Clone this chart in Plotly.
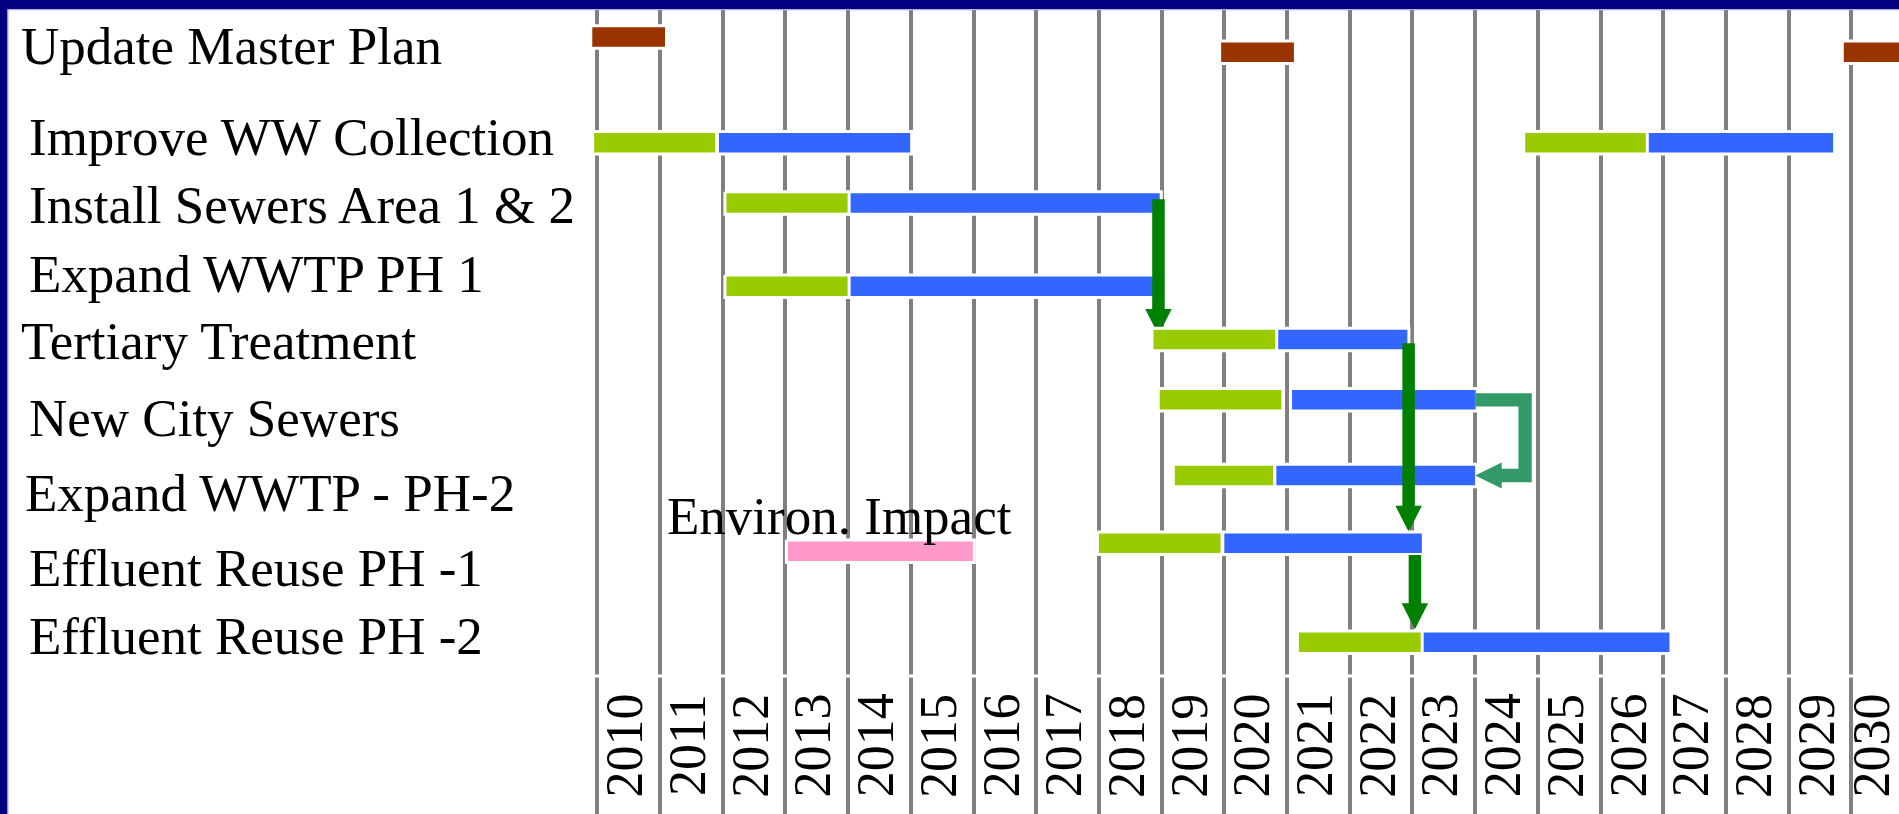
import plotly.graph_objects as go

# ---------------- data ----------------
tasks = [
    "Update Master Plan",
    "Improve WW Collection",
    "Install Sewers Area 1 & 2",
    "Expand WWTP PH 1",
    "Tertiary Treatment",
    "New City Sewers",
    "Expand WWTP - PH-2",
    "Effluent Reuse PH -1",
    "Effluent Reuse PH -2",
]

# master plan updates (brown)
plan_start = [2009.92, 2019.95, 2029.88]
plan_end = [2011.08, 2021.11, 2031.00]

# design (green) and construction (blue) phases
phase_task = [
    "Improve WW Collection", "Improve WW Collection", "Install Sewers Area 1 & 2",
    "Expand WWTP PH 1", "Tertiary Treatment", "New City Sewers",
    "Expand WWTP - PH-2", "Effluent Reuse PH -1", "Effluent Reuse PH -2",
]
design_start = [2009.95, 2024.80, 2012.06, 2012.06, 2018.87, 2018.97, 2019.21, 2018.00, 2021.19]
design_end = [2011.88, 2026.73, 2014.00, 2014.00, 2020.81, 2020.91, 2020.78, 2019.94, 2023.15]
build_start = [2011.94, 2026.77, 2014.04, 2014.04, 2020.86, 2021.08, 2020.83, 2020.00, 2023.18]
build_end = [2014.99, 2029.71, 2018.97, 2018.90, 2022.92, 2024.01, 2024.00, 2023.15, 2027.10]

# environmental impact study (pink)
env_label = "Environ. Impact"
env_start = 2013.04
env_end = 2015.99

# time axis
years = list(range(2010, 2031))
year_labels = [str(y) for y in years]

# dependencies (green arrows)
dep_from = ["Install Sewers Area 1 & 2", "Tertiary Treatment", "Effluent Reuse PH -1"]
dep_to = ["Tertiary Treatment", "Effluent Reuse PH -1", "Effluent Reuse PH -2"]
dep_year = [2018.95, 2022.94, 2023.04]

# link New City Sewers -> Expand WWTP PH-2 (teal bracket)
link_from = "New City Sewers"
link_to = "Expand WWTP - PH-2"

# ---------------- layout / style ----------------
W, H = 1899, 814
X0_PX, PX_PER_YEAR = 597.3, 62.7
PLOT_TOP, PLOT_BOTTOM = 10.0, 676.0
x_range = [2010 - X0_PX / PX_PER_YEAR, 2010 + (W - X0_PX) / PX_PER_YEAR]

LANE_Y = {
    "Update Master Plan": 37.0,
    "Improve WW Collection": 142.7,
    "Install Sewers Area 1 & 2": 203.0,
    "Expand WWTP PH 1": 286.3,
    "Tertiary Treatment": 339.5,
    "New City Sewers": 399.8,
    "Expand WWTP - PH-2": 475.5,
    "Effluent Reuse PH -1": 543.3,
    "Effluent Reuse PH -2": 642.2,
}
PLAN_LANE_Y = [37.0, 52.2, 52.2]
ENV_LANE_Y = 551.3

LABEL_POS = {
    "Update Master Plan": (19, 46.3),
    "Improve WW Collection": (27, 137.0),
    "Install Sewers Area 1 & 2": (27, 204.7),
    "Expand WWTP PH 1": (27, 273.7),
    "Tertiary Treatment": (19, 341.3),
    "New City Sewers": (27, 418.0),
    "Expand WWTP - PH-2": (23, 493.0),
    "Effluent Reuse PH -1": (27, 568.0),
    "Effluent Reuse PH -2": (27, 636.3),
}
ENV_TEXT_POS = (665, 516.3)
YEAR_LABEL_Y = 745.5
YEAR_LABEL_SHIFT = 0.44
LABEL_EDGE_PAD = 28.0   # keep last year label inside the right edge (px)

BAR_H = 19.6
HALO = 3.0
SHAFT_W, HEAD_W, HEAD_L = 12.5, 26.5, 26.0
ARROW_OFFSETS = [(-3.7, -4.5), (3.8, -11.6), (11.7, -12.9)]
LINK_W, LINK_REACH, LINK_HEAD_L, LINK_HEAD_W = 13.3, 56.0, 26.6, 26.0

BROWN, GREEN, BLUE, PINK = "#993300", "#99CC00", "#3366FF", "#FF99CC"
ARROW_GREEN, TEAL = "#008000", "#339966"
GRID = "#808080"
NAVY = "#000080"
FONT = "Liberation Serif, Times New Roman, serif"
FS = 53
FS_YEAR = 52


def px2yr(d):
    return d / PX_PER_YEAR


def rect(s, e, lane, color):
    p = px2yr(HALO / 2)
    hh = BAR_H / 2 + HALO / 2
    return go.Scatter(
        x=[s - p, e + p, e + p, s - p, s - p],
        y=[lane - hh, lane - hh, lane + hh, lane + hh, lane - hh],
        mode="lines", fill="toself", fillcolor=color,
        line=dict(color="white", width=HALO),
        hoverinfo="skip", showlegend=False,
    )


def arrow(i):
    xc = dep_year[i]
    so, to = ARROW_OFFSETS[i]
    ys = LANE_Y[dep_from[i]] + so
    yt = LANE_Y[dep_to[i]] + to
    yh = yt - HEAD_L
    sw, hw = px2yr(SHAFT_W / 2), px2yr(HEAD_W / 2)
    return go.Scatter(
        x=[xc - sw, xc + sw, xc + sw, xc + hw, xc, xc - hw, xc - sw, xc - sw],
        y=[ys, ys, yh, yh, yt, yh, yh, ys],
        mode="lines", fill="toself", fillcolor=ARROW_GREEN,
        line=dict(width=0, color=ARROW_GREEN),
        hoverinfo="skip", showlegend=False,
    )


fig = go.Figure()

for task in tasks:
    for i, tgt in enumerate(dep_to):
        if tgt == task:
            fig.add_trace(arrow(i))
    if task == "Update Master Plan":
        for s, e, ly in zip(plan_start, plan_end, PLAN_LANE_Y):
            fig.add_trace(rect(s, e, ly, BROWN))
    for t, ds, de, bs, be in zip(phase_task, design_start, design_end, build_start, build_end):
        if t == task:
            fig.add_trace(rect(ds, de, LANE_Y[t], GREEN))
            fig.add_trace(rect(bs, be, LANE_Y[t], BLUE))
    if task == "Effluent Reuse PH -1":
        fig.add_trace(rect(env_start, env_end, ENV_LANE_Y, PINK))

# teal bracket link
i_from = phase_task.index(link_from)
i_to = phase_task.index(link_to)
xs = build_end[i_from]
xt = build_end[i_to]
yt_ = LANE_Y[link_from]
yb_ = LANE_Y[link_to]
w2 = LINK_W / 2
R = xs + px2yr(LINK_REACH)
Rin = R - px2yr(LINK_W)
xh = xt + px2yr(LINK_HEAD_L)
hw = LINK_HEAD_W / 2
fig.add_trace(go.Scatter(
    x=[xs, R, R, xh, xh, xt, xh, xh, Rin, Rin, xs, xs],
    y=[yt_ - w2, yt_ - w2, yb_ + w2, yb_ + w2, yb_ + hw, yb_, yb_ - hw, yb_ - w2,
       yb_ - w2, yt_ + w2, yt_ + w2, yt_ - w2],
    mode="lines", fill="toself", fillcolor=TEAL,
    line=dict(width=0, color=TEAL), hoverinfo="skip", showlegend=False,
))

annotations = []
for task in tasks:
    lx, ly = LABEL_POS[task]
    annotations.append(dict(
        text=task, xref="paper", yref="y", x=lx / W, y=ly,
        xanchor="left", yanchor="middle", showarrow=False,
        font=dict(family=FONT, size=FS, color="black"),
    ))
annotations.append(dict(
    text=env_label, xref="paper", yref="y", x=ENV_TEXT_POS[0] / W, y=ENV_TEXT_POS[1],
    xanchor="left", yanchor="middle", showarrow=False,
    font=dict(family=FONT, size=FS, color="black"),
))
x_label_max = x_range[1] - px2yr(LABEL_EDGE_PAD)
for yv, lab in zip(years, year_labels):
    annotations.append(dict(
        text=lab, xref="x", yref="paper",
        x=min(yv + YEAR_LABEL_SHIFT, x_label_max), y=1 - YEAR_LABEL_Y / H,
        xanchor="center", yanchor="middle", textangle=-90, showarrow=False,
        font=dict(family=FONT, size=FS_YEAR, color="black"),
    ))

shapes = [
    # gap between gridlines and tick marks
    dict(type="rect", xref="paper", yref="paper", x0=0, x1=1,
         y0=1 - 677.4 / H, y1=1 - 674.6 / H, fillcolor="white", line=dict(width=0), layer="above"),
    # slide border (top and left)
    dict(type="rect", xref="paper", yref="paper", x0=0, x1=1,
         y0=1 - 9.3 / H, y1=1, fillcolor=NAVY, line=dict(width=0), layer="above"),
    dict(type="rect", xref="paper", yref="paper", x0=0, x1=7.5 / W,
         y0=0, y1=1, fillcolor=NAVY, line=dict(width=0), layer="above"),
    dict(type="line", xref="paper", yref="paper", x0=7.5 / W, x1=1,
         y0=1 - 9.8 / H, y1=1 - 9.8 / H, line=dict(color="#A8A8E0", width=1), layer="above"),
    dict(type="line", xref="paper", yref="paper", x0=8.0 / W, x1=8.0 / W,
         y0=0, y1=1 - 9.3 / H, line=dict(color="#A8A8E0", width=1), layer="above"),
]

fig.update_layout(
    width=W, height=H, autosize=False,
    margin=dict(l=0, r=0, t=0, b=0, pad=0),
    paper_bgcolor="white", plot_bgcolor="white",
    showlegend=False,
    xaxis=dict(
        range=x_range, domain=[0, 1], tickmode="array", tickvals=years,
        showticklabels=False, showgrid=True, gridcolor=GRID, gridwidth=4,
        ticks="outside", ticklen=int(H - PLOT_BOTTOM), tickwidth=4, tickcolor=GRID,
        showline=False, zeroline=False, fixedrange=True,
    ),
    yaxis=dict(
        range=[PLOT_BOTTOM, PLOT_TOP], domain=[1 - PLOT_BOTTOM / H, 1 - PLOT_TOP / H],
        showgrid=False, zeroline=False, showticklabels=False, ticks="",
        showline=False, fixedrange=True,
    ),
    annotations=annotations,
    shapes=shapes,
    hovermode=False,
)

fig.write_html(
    "out.html",
    config={"displayModeBar": False, "staticPlot": True},
    post_script="document.body.style.margin='0';document.body.style.overflow='hidden';",
)
